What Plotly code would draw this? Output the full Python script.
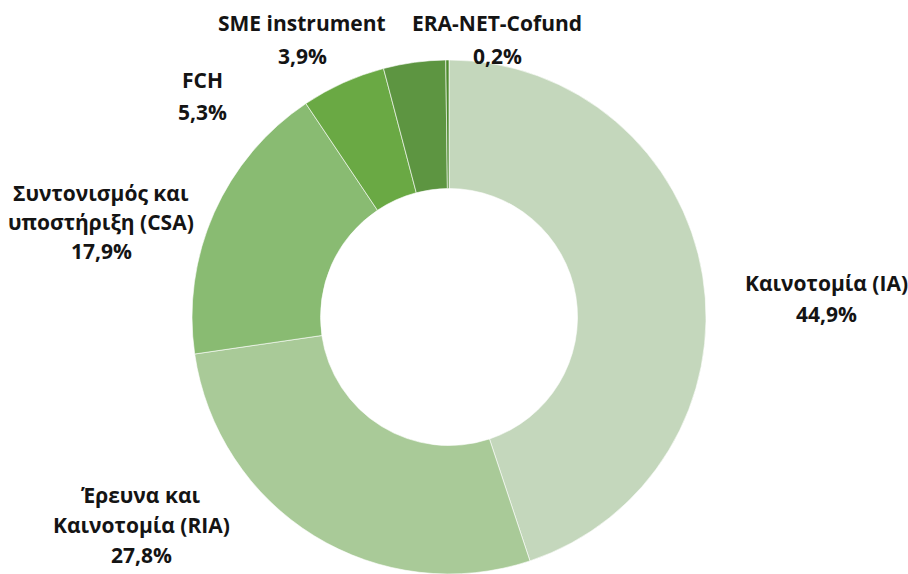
import plotly.graph_objects as go

categories = ["Καινοτομία (IA)", "Έρευνα και Καινοτομία (RIA)", "Συντονισμός και υποστήριξη (CSA)",
              "FCH", "SME instrument", "ERA-NET-Cofund"]
values = [44.9, 27.8, 17.9, 5.3, 3.9, 0.2]
label_lines = [["Καινοτομία (IA)"], ["Έρευνα και", "Καινοτομία (RIA)"], ["Συντονισμός και", "υποστήριξη (CSA)"],
               ["FCH"], ["SME instrument"], ["ERA-NET-Cofund"]]
colors = ["#c4d7bc", "#a9ca98", "#89bb72", "#6aa944", "#5d9541", "#4e8a2e"]

W, H = 908, 574
T = 60
# label anchor (centre x, first-line centre y, line spacing) in pixels
label_pos = [(826, 283, 31), (141, 495, 30), (101, 193, 29), (202, 80, 32), (302, 23, 33), (497, 23, 33)]

fig = go.Figure(go.Pie(
    labels=categories, values=values, sort=False, direction="clockwise", rotation=0,
    hole=0.5, textinfo="none", hoverinfo="label+percent",
    marker=dict(colors=colors, line=dict(color="white", width=0.6)),
    domain=dict(x=[0, 0.989], y=[0, 1]), showlegend=False,
))

PH = H - T
annotations = []
for lines, v, (cx, cy, sp) in zip(label_lines, values, label_pos):
    all_lines = lines + [f"{v:.1f}".replace(".", ",") + "%"]
    for i, t in enumerate(all_lines):
        annotations.append(dict(
            text=f"<b>{t}</b>", x=cx / W, y=1 - (cy + i * sp - T) / PH,
            xref="paper", yref="paper", xanchor="center", yanchor="middle",
            showarrow=False, font=dict(size=21, color="#141414", family="Open Sans"),
        ))

fig.update_layout(
    width=W, height=H, paper_bgcolor="white", plot_bgcolor="white",
    margin=dict(l=0, r=0, t=T, b=0), annotations=annotations,
)
fig.write_html("out.html", config={"displayModeBar": False},
               post_script="document.body.style.margin='0';document.body.style.overflow='hidden';")
